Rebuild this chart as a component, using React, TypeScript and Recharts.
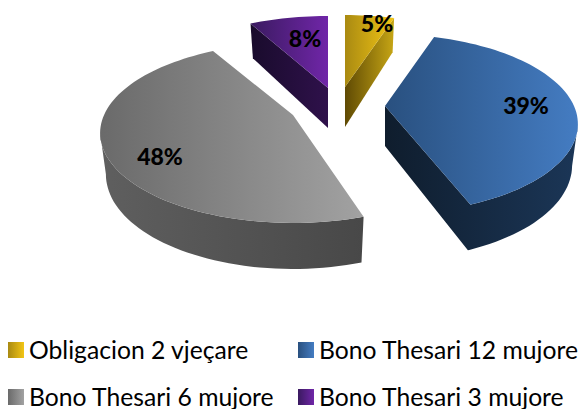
// App.tsx
import { Pie, PieChart, Legend } from "recharts";

const categories = [
  "Obligacion 2 vjeçare",
  "Bono Thesari 12 mujore",
  "Bono Thesari 6 mujore",
  "Bono Thesari 3 mujore",
];
const shares = [5, 39, 48, 8];

// look of each slice, same order as categories
const sliceCenters = [
  [345, 87],
  [385, 106],
  [293, 115],
  [328, 88],
];
// degrees shaved off each end of a slice, the gray one sits a bit narrower in the picture
const sliceTrims = [
  [0, 0],
  [0, 0],
  [4, 1],
  [0, 0],
];
const labelSpots = [
  [377, 23],
  [526, 105],
  [160, 156],
  [305, 38],
];
const topColors = [
  ["#a98a12", "#f2c515"],
  ["#29507f", "#447cc2"],
  ["#6a6a6a", "#a2a2a2"],
  ["#3a1a60", "#7026a8"],
];
const sideColors = [
  ["#5f4a04", "#c7a615"],
  ["#0f1d2d", "#1b3657"],
  ["#5f5f5f", "#484848"],
  ["#190b2c", "#2f114b"],
];

const tableData = categories.map((name, i) => ({
  name,
  value: shares[i],
  fill: topColors[i][1],
}));

// the 3D tilt: the front of the disc comes closer to the viewer
const TILT = 0.2;
const FLATTEN = 0.457;
const SHRINK = 0.97;

const project = (deg: number, cx: number, cy: number, r: number) => {
  const rad = (deg * Math.PI) / 180;
  const u = Math.sin(rad);
  const v = Math.cos(rad);
  const d = 1 + TILT * v;
  return { x: cx + (r * u) / d, y: cy - (r * FLATTEN * v) / d, v };
};

const dropDown = (p: { x: number; y: number; v: number }, cx: number) => ({
  x: cx + (p.x - cx) * SHRINK,
  y: p.y + 40 - 6 * p.v,
});

const toPath = (pts: { x: number; y: number }[]) =>
  "M" + pts.map((p) => `${p.x.toFixed(1)},${p.y.toFixed(1)}`).join("L") + "Z";

const Slice3D = (props: any) => {
  const { startAngle, endAngle, outerRadius, name } = props;
  const i = categories.indexOf(name);
  const [cx, cy] = sliceCenters[i];
  // recharts angles run counter-clockwise from 3 o'clock
  const from = 90 - startAngle + sliceTrims[i][0];
  const to = 90 - endAngle - sliceTrims[i][1];

  const arc: number[] = [];
  for (let a = from; a < to; a += 2) arc.push(a);
  arc.push(to);
  const rim = arc.map((a) => project(a, cx, cy, outerRadius));
  const apex = { x: cx, y: cy, v: 0 };

  let side = "";
  // outer wall, only where it faces the viewer
  const front = arc.filter((a) => a > 101.5 && a < 258.5);
  if (front.length > 1) {
    const upper = front.map((a) => project(a, cx, cy, outerRadius));
    const lower = upper.map((p) => dropDown(p, cx)).reverse();
    side += toPath([...upper, ...lower]);
  }
  // the two cut walls, only if the top face sits above the edge
  const mid = project((from + to) / 2, cx, cy, outerRadius);
  [rim[0], rim[rim.length - 1]].forEach((p) => {
    if (Math.abs(p.x - cx) < 1) return;
    const yAtMid = cy + ((p.y - cy) * (mid.x - cx)) / (p.x - cx);
    if (mid.y < yAtMid) {
      side += toPath([apex, p, dropDown(p, cx), dropDown(apex, cx)]);
    }
  });

  return (
    <g>
      <defs>
        <linearGradient id={`top${i}`} x1="0" y1="0" x2="1" y2="0">
          <stop offset="0%" stopColor={topColors[i][0]} />
          <stop offset="100%" stopColor={topColors[i][1]} />
        </linearGradient>
        <linearGradient id={`side${i}`} x1="0" y1="0" x2="1" y2="0">
          <stop offset="0%" stopColor={sideColors[i][0]} />
          <stop offset="100%" stopColor={sideColors[i][1]} />
        </linearGradient>
      </defs>
      {side && <path d={side} fill={`url(#side${i})`} />}
      <path d={toPath([apex, ...rim])} fill={`url(#top${i})`} />
    </g>
  );
};

const renderShare = (props: any) => {
  const i = categories.indexOf(props.name);
  return (
    <text
      x={labelSpots[i][0]}
      y={labelSpots[i][1]}
      textAnchor="middle"
      dominantBaseline="central"
      fontFamily="Lato, sans-serif"
      fontWeight={900}
      fontSize={23}
      fill="#000"
    >
      {props.value}%
    </text>
  );
};

const renderLegend = (props: any) => (
  <div style={{ position: "relative", width: 580, height: 84 }}>
    {props.payload.map((entry: any, i: number) => (
      <div
        key={entry.value}
        style={{
          position: "absolute",
          left: i % 2 === 0 ? 8 : 298,
          top: i < 2 ? 13 : 60,
          display: "flex",
          alignItems: "center",
          height: 24,
          lineHeight: "24px",
          whiteSpace: "nowrap",
          fontFamily: "Lato, sans-serif",
          fontSize: 24.7,
          color: "#000",
        }}
      >
        <span
          style={{
            width: 16,
            height: 16,
            marginRight: 5,
            background: `linear-gradient(to right, ${topColors[i][0]}, ${topColors[i][1]})`,
          }}
        />
        {entry.value}
      </div>
    ))}
  </div>
);

export default function App() {
  return (
    <div style={{ position: "absolute", left: 0, top: 0 }}>
      <PieChart width={580} height={409} margin={{ top: 0, right: 0, bottom: 0, left: 0 }}>
        <Pie
          data={tableData}
          dataKey="value"
          nameKey="name"
          cx={340}
          cy={110}
          outerRadius={189}
          startAngle={90}
          endAngle={-270}
          stroke="none"
          shape={Slice3D}
          label={renderShare}
          labelLine={false}
          isAnimationActive={false}
        />
        <Legend
          content={renderLegend}
          itemSorter={null}
          wrapperStyle={{ position: "absolute", left: 0, top: 325, width: 580, height: 84 }}
        />
      </PieChart>
    </div>
  );
}
